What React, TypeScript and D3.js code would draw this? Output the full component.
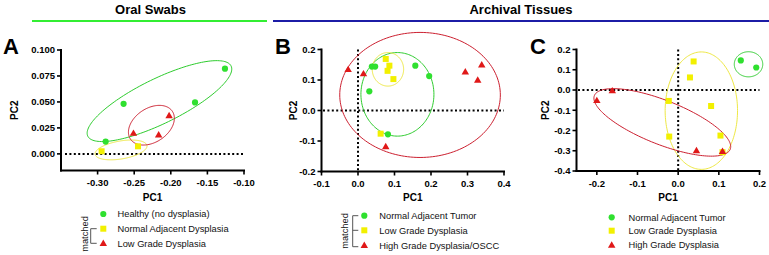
import React from "react";
import * as d3 from "d3";

type Pt = [number, number];
// ellipse: [cx, cy, ux, uy, vx, vy] (center + two conjugate semi-axis vectors, data units)
type Ell = [number, number, number, number, number, number];

// ---------- Panel A: Oral swabs ----------
const aHealthy: Pt[] = [[-0.289, 0.0118], [-0.2645, 0.0482], [-0.1669, 0.0495], [-0.126, 0.082]];
const aNormalAdj: Pt[] = [[-0.2945, 0.0025], [-0.2448, 0.0073]];
const aLowGrade: Pt[] = [[-0.251, 0.02], [-0.2166, 0.0185], [-0.2023, 0.037]];
const aEllHealthy: Ell = [-0.2155, 0.0508, 0.098, 0.0336, 0.0124, -0.0197];
const aEllNormalAdj: Ell = [-0.268, 0.0038, 0.0354, 0.0043, 0.0022, -0.0085];
const aEllLowGrade: Ell = [-0.2265, 0.0276, 0.0283, 0.0137, 0.0135, -0.0133];
const aXTicks = [-0.3, -0.25, -0.2, -0.15, -0.1];
const aYTicks = [0, 0.025, 0.05, 0.075, 0.1];
const aLegend = ["Healthy (no dysplasia)", "Normal Adjacent Dysplasia", "Low Grade Dysplasia"];

// ---------- Panel B: Archival tissues ----------
const bNormalTumor: Pt[] = [[0.038, 0.144], [0.047, 0.144], [0.031, 0.063], [0.157, 0.147], [0.195, 0.113], [0.082, -0.078]];
const bLowGrade: Pt[] = [[0.076, 0.169], [0.086, 0.147], [0.081, 0.13], [0.097, 0.103], [0.062, -0.076]];
const bHighGrade: Pt[] = [[-0.027, 0.135], [0.015, 0.121], [0.076, -0.118], [0.294, 0.127], [0.328, 0.1], [0.339, 0.15]];
const bEllNormalTumor: Ell = [0.108, 0.053, 0.1, 0, 0, 0.137];
const bEllLowGrade: Ell = [0.082, 0.135, 0.043, 0, 0, 0.055];
const bEllHighGrade: Ell = [0.17, 0.051, 0.22, 0, 0, 0.205];
const bXTicks = [-0.1, 0, 0.1, 0.2, 0.3, 0.4];
const bYTicks = [-0.2, -0.1, 0, 0.1, 0.2];
const bLegend = ["Normal Adjacent Tumor", "Low Grade Dysplasia", "High Grade Dysplasia/OSCC"];

// ---------- Panel C ----------
const cNormalTumor: Pt[] = [[0.154, 0.146], [0.192, 0.111]];
const cLowGrade: Pt[] = [[0.038, 0.141], [0.029, 0.062], [0.081, -0.079], [-0.023, -0.054], [-0.022, -0.23], [0.104, -0.225], [0.109, -0.307]];
const cHighGrade: Pt[] = [[-0.2, -0.051], [-0.162, -0.003], [0.045, -0.299], [0.109, -0.302]];
const cEllNormalTumor: Ell = [0.173, 0.127, 0.035, 0, 0, 0.062];
const cEllLowGrade: Ell = [0.057, -0.102, 0.089, 0, 0, 0.29];
const cEllHighGrade: Ell = [-0.039, -0.16, 0.167, -0.1326, -0.02, -0.101];
const cXTicks = [-0.2, -0.1, 0, 0.1, 0.2];
const cYTicks = [-0.4, -0.3, -0.2, -0.1, 0, 0.1, 0.2];
const cLegend = ["Normal Adjacent Tumor", "Low Grade Dysplasia", "High Grade Dysplasia"];

const FONT = "'Liberation Sans', Arial, Helvetica, sans-serif";
const GREEN = "#2fe02f";
const GREEN_L = "#2ecc2e";
const YELLOW = "#f2f000";
const YELLOW_L = "#eee845";
const RED = "#e01818";
const RED_L = "#cc2030";

const fmt = (d: number, p: number) => {
  const s = Math.abs(d).toFixed(p);
  return d < -1e-9 ? "-" + s : s;
};

function ellipsePath(e: Ell, x: d3.ScaleLinear<number, number>, y: d3.ScaleLinear<number, number>) {
  const [cx, cy, ux, uy, vx, vy] = e;
  const pts: Pt[] = d3.range(0, 160).map((i) => {
    const t = (i / 160) * Math.PI * 2;
    return [x(cx + Math.cos(t) * ux + Math.sin(t) * vx), y(cy + Math.cos(t) * uy + Math.sin(t) * vy)];
  });
  return d3.line().curve(d3.curveLinearClosed)(pts) || "";
}

const triPath = d3.symbol(d3.symbolTriangle, 24)() || "";

function Marker({ kind, cx, cy }: { kind: number; cx: number; cy: number }) {
  if (kind === 0) return <circle cx={cx} cy={cy} r={3.1} fill={GREEN} />;
  if (kind === 1) return <rect x={cx - 3} y={cy - 3} width={6} height={6} fill={YELLOW} />;
  return <path d={triPath} transform={`translate(${cx},${cy + 0.6})`} fill={RED} />;
}

interface PanelProps {
  letter: string;
  letterX: number;
  xDomain: [number, number];
  xRange: [number, number];
  yDomain: [number, number];
  yRange: [number, number];
  xTicks: number[];
  yTicks: number[];
  xPrec: number;
  yPrec: number;
  series: Pt[][];
  ells: Ell[];
  vZero: boolean;
  hZeroStart: number;
  pc2X: number;
}

function Panel(p: PanelProps) {
  const x = d3.scaleLinear().domain(p.xDomain).range(p.xRange);
  const y = d3.scaleLinear().domain(p.yDomain).range(p.yRange);
  const x0 = p.xRange[0];
  const x1 = p.xRange[1];
  const yb = p.yRange[0];
  const yt = p.yRange[1];
  const ellColors = [GREEN_L, YELLOW_L, RED_L];
  return (
    <g>
      <text x={p.letterX} y={53.5} fontSize={22} fontWeight="bold" fontFamily={FONT} fill="#000">
        {p.letter}
      </text>
      {/* zero lines */}
      <line x1={p.hZeroStart} x2={x1} y1={y(0)} y2={y(0)} stroke="#000" strokeWidth={2} strokeDasharray="2,2.4" />
      {p.vZero && <line x1={x(0)} x2={x(0)} y1={yt} y2={yb} stroke="#000" strokeWidth={2} strokeDasharray="2,2.4" />}
      {/* ellipses */}
      {p.ells.map((e, i) => (
        <path key={"e" + i} d={ellipsePath(e, x, y)} fill="none" stroke={ellColors[i]} strokeWidth={1} />
      ))}
      {/* points */}
      {p.series.map((s, k) =>
        s.map((d, i) => <Marker key={`p${k}-${i}`} kind={k} cx={x(d[0])} cy={y(d[1])} />)
      )}
      {/* axes */}
      <line x1={x0} x2={x0} y1={yt - 1} y2={yb + 1} stroke="#000" strokeWidth={2} />
      <line x1={x0 - 1} x2={x1 + 1} y1={yb} y2={yb} stroke="#000" strokeWidth={2} />
      {p.yTicks.map((t) => (
        <g key={"yt" + t}>
          <line x1={x0 - 4} x2={x0} y1={y(t)} y2={y(t)} stroke="#000" strokeWidth={1.6} />
          <text x={x0 - 6} y={y(t) + 3.4} textAnchor="end" fontSize={9.5} fontWeight="bold" fontFamily={FONT} fill="#000">
            {fmt(t, p.yPrec)}
          </text>
        </g>
      ))}
      {p.xTicks.map((t) => (
        <g key={"xt" + t}>
          <line x1={x(t)} x2={x(t)} y1={yb} y2={yb + 4} stroke="#000" strokeWidth={1.6} />
          <text x={x(t)} y={yb + 15.5} textAnchor="middle" fontSize={9.5} fontWeight="bold" fontFamily={FONT} fill="#000">
            {fmt(t, p.xPrec)}
          </text>
        </g>
      ))}
      <text x={(x0 + x1) / 2} y={200.5} textAnchor="middle" fontSize={10} fontWeight="bold" fontFamily={FONT} fill="#000">
        PC1
      </text>
      <text
        transform={`translate(${p.pc2X},${(yt + yb) / 2}) rotate(-90)`}
        textAnchor="middle"
        dominantBaseline="central"
        fontSize={10}
        fontWeight="bold"
        fontFamily={FONT}
        fill="#000"
      >
        PC2
      </text>
    </g>
  );
}

function Legend({ labels, mx, tx, rows }: { labels: string[]; mx: number; tx: number; rows: number[] }) {
  return (
    <g>
      {labels.map((l, i) => (
        <g key={l}>
          <Marker kind={i} cx={mx} cy={rows[i]} />
          <text x={tx} y={rows[i] + 3.4} fontSize={9.3} fontFamily={FONT} fill="#111">
            {l}
          </text>
        </g>
      ))}
    </g>
  );
}

export default function App() {
  return (
    <svg width={769} height={255} style={{ display: "block", position: "absolute", left: 0, top: 0 }}>
      <rect width={769} height={255} fill="#fff" />
      {/* headers */}
      <text x={150.5} y={14} textAnchor="middle" fontSize={13} fontWeight="bold" fontFamily={FONT} fill="#000">
        Oral Swabs
      </text>
      <line x1={32} x2={267} y1={21} y2={21} stroke="#33ee33" strokeWidth={2.2} />
      <text x={521} y={14} textAnchor="middle" fontSize={13} fontWeight="bold" fontFamily={FONT} fill="#000">
        Archival Tissues
      </text>
      <line x1={273} x2={769} y1={21} y2={21} stroke="#1c1ca6" strokeWidth={2.2} />

      <Panel
        letter="A"
        letterX={3}
        xDomain={[-0.35, -0.1]}
        xRange={[61, 244]}
        yDomain={[-0.016, 0.1]}
        yRange={[170.5, 50]}
        xTicks={aXTicks}
        yTicks={aYTicks}
        xPrec={2}
        yPrec={3}
        series={[aHealthy, aNormalAdj, aLowGrade]}
        ells={[aEllHealthy, aEllNormalAdj, aEllLowGrade]}
        vZero={false}
        hZeroStart={65}
        pc2X={14}
      />
      <Panel
        letter="B"
        letterX={275}
        xDomain={[-0.1, 0.4]}
        xRange={[321.5, 504]}
        yDomain={[-0.2, 0.2]}
        yRange={[171.5, 49.5]}
        xTicks={bXTicks}
        yTicks={bYTicks}
        xPrec={1}
        yPrec={1}
        series={[bNormalTumor, bLowGrade, bHighGrade]}
        ells={[bEllNormalTumor, bEllLowGrade, bEllHighGrade]}
        vZero={true}
        hZeroStart={323}
        pc2X={293.5}
      />
      <Panel
        letter="C"
        letterX={530}
        xDomain={[-0.25, 0.2]}
        xRange={[576.5, 759.5]}
        yDomain={[-0.4, 0.2]}
        yRange={[171, 49.5]}
        xTicks={cXTicks}
        yTicks={cYTicks}
        xPrec={1}
        yPrec={1}
        series={[cNormalTumor, cLowGrade, cHighGrade]}
        ells={[cEllNormalTumor, cEllLowGrade, cEllHighGrade]}
        vZero={true}
        hZeroStart={578}
        pc2X={545}
      />

      {/* legends */}
      <Legend labels={aLegend} mx={103.3} tx={117.5} rows={[214, 228.7, 243.3]} />
      <Legend labels={bLegend} mx={364.3} tx={379.3} rows={[215.7, 230.3, 245.3]} />
      <Legend labels={cLegend} mx={611.7} tx={628.5} rows={[217.3, 230.7, 245]} />

      {/* matched brackets */}
      <text transform="translate(85,234) rotate(-90)" textAnchor="middle" dominantBaseline="central" fontSize={9.3} fontFamily={FONT} fill="#111">
        matched
      </text>
      <path d="M96.7,228.7 H90.7 V243.3 H96.7" fill="none" stroke="#555" strokeWidth={1} />
      <text transform="translate(345,231) rotate(-90)" textAnchor="middle" dominantBaseline="central" fontSize={9.3} fontFamily={FONT} fill="#111">
        matched
      </text>
      <path d="M358.3,215.7 H352.7 V246.7 H358.3 M352.7,230.3 H358.3" fill="none" stroke="#555" strokeWidth={1} />
    </svg>
  );
}
